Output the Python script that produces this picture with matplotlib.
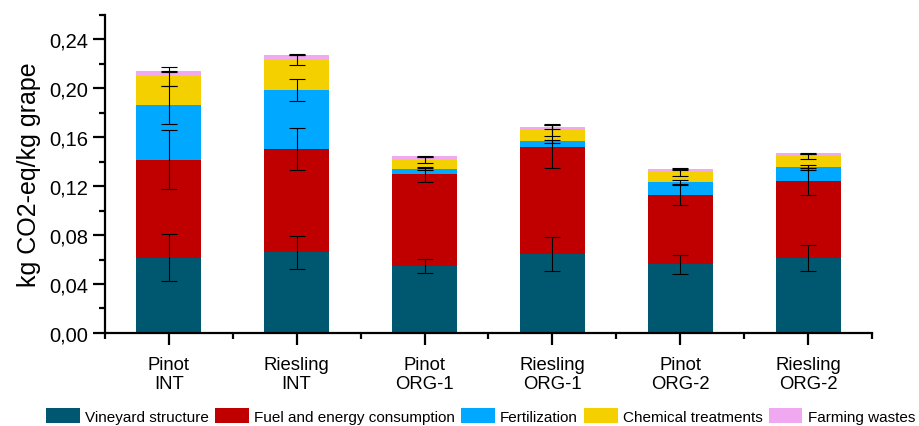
import matplotlib
matplotlib.use("Agg")
import matplotlib.pyplot as plt
from matplotlib.ticker import MultipleLocator, FuncFormatter, FixedLocator
import numpy as np

plt.rcParams['font.family'] = ['Liberation Sans', 'DejaVu Sans']

categories = ['Pinot\nINT', 'Riesling\nINT', 'Pinot\nORG-1', 'Riesling\nORG-1', 'Pinot\nORG-2', 'Riesling\nORG-2']

vineyard = [0.0615, 0.0660, 0.0547, 0.0645, 0.0560, 0.0612]
fuel = [0.0800, 0.0842, 0.0748, 0.0876, 0.0567, 0.0626]
fertilization = [0.0449, 0.0484, 0.0044, 0.0044, 0.0106, 0.0114]
chemical = [0.0234, 0.0245, 0.0073, 0.0095, 0.0079, 0.0090]
farming = [0.0041, 0.0044, 0.0030, 0.0022, 0.0027, 0.0025]

vineyard_err = [0.019, 0.0135, 0.006, 0.0136, 0.008, 0.011]
fuel_err = [0.024, 0.017, 0.006, 0.0175, 0.0085, 0.011]
fertilization_err = [0.0155, 0.0093, 0.0005, 0.001, 0.0015, 0.002]
chemical_err = [0.0076, 0.004, 0.0027, 0.005, 0.003, 0.002]
farming_err = [0.0005, 0.0005, 0.0005, 0.0015, 0.0005, 0.0005]

series = [
    ('Vineyard structure', vineyard, vineyard_err, '#005870'),
    ('Fuel and energy consumption', fuel, fuel_err, '#C00000'),
    ('Fertilization', fertilization, fertilization_err, '#00A8FF'),
    ('Chemical treatments', chemical, chemical_err, '#F5D000'),
    ('Farming wastes', farming, farming_err, '#F0A8F0'),
]

fig = plt.figure(figsize=(9.19, 4.27), dpi=100)
ax = fig.add_axes([0.114, 0.218, 0.835, 0.745])

x = np.arange(len(categories))
bottom = np.zeros(len(categories))
for name, vals, errs, col in series:
    vals = np.array(vals)
    ax.bar(x, vals, width=0.51, bottom=bottom, color=col, label=name,
           edgecolor='none', zorder=2)
    ax.errorbar(x, bottom + vals, yerr=errs, fmt='none', ecolor='black',
                elinewidth=0.8, capsize=6, capthick=0.8, zorder=3)
    bottom += vals

ax.set_xlim(-0.5, 5.5)
ax.set_ylim(0, 0.26)
ax.yaxis.set_major_locator(FixedLocator([0, 0.04, 0.08, 0.12, 0.16, 0.20, 0.24]))
ax.yaxis.set_minor_locator(MultipleLocator(0.02))
ax.yaxis.set_major_formatter(FuncFormatter(lambda v, p: f"{v:.2f}".replace('.', ',')))
ax.set_xticks(x)
ax.set_xticklabels(categories)
ax.set_xticks(np.arange(-0.5, 6, 1), minor=True)

for s in ['top', 'right']:
    ax.spines[s].set_visible(False)
for s in ['left', 'bottom']:
    ax.spines[s].set_linewidth(1.6)
ax.tick_params(axis='both', which='major', direction='out', length=8.5, width=1.6, labelsize=14.5)
ax.tick_params(axis='x', which='major', labelsize=13.3, pad=8)
ax.tick_params(axis='both', which='minor', direction='out', length=4.5, width=1.6)

ax.set_ylabel('kg CO2-eq/kg grape', fontsize=18, labelpad=6)

fig.legend(loc='center', bbox_to_anchor=(0.523, 0.024), ncol=5, frameon=False,
           fontsize=11, handlelength=2.2, handleheight=1.1, handletextpad=0.35,
           columnspacing=0.4, borderaxespad=0)

fig.savefig('out.png', dpi=100)
